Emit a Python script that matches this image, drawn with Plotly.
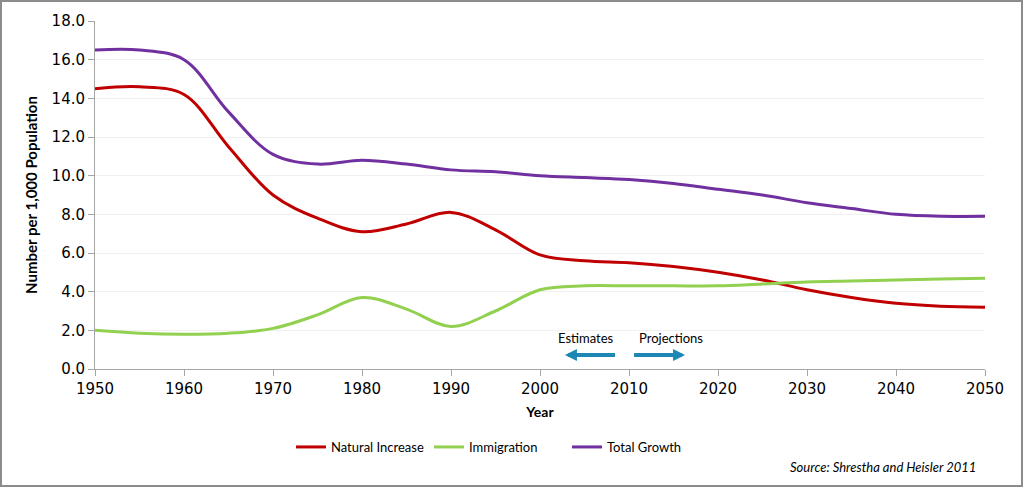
import plotly.graph_objects as go

years = [1950, 1955, 1960, 1965, 1970, 1975, 1980, 1985, 1990, 1995, 2000,
         2005, 2010, 2015, 2020, 2025, 2030, 2035, 2040, 2045, 2050]
natural_increase = [14.5, 14.6, 14.2, 11.5, 9.0, 7.8, 7.1, 7.5, 8.1, 7.2, 5.9,
                    5.6, 5.5, 5.3, 5.0, 4.6, 4.1, 3.7, 3.4, 3.25, 3.2]
immigration = [2.0, 1.85, 1.8, 1.85, 2.1, 2.8, 3.7, 3.1, 2.2, 3.0, 4.1,
               4.3, 4.3, 4.3, 4.3, 4.4, 4.5, 4.55, 4.6, 4.65, 4.7]
total_growth = [16.5, 16.5, 16.0, 13.3, 11.1, 10.6, 10.8, 10.6, 10.3, 10.2, 10.0,
                9.9, 9.8, 9.6, 9.3, 9.0, 8.6, 8.3, 8.0, 7.9, 7.9]

series = [
    ("Natural Increase", natural_increase, "#C00000"),
    ("Immigration", immigration, "#92D050"),
    ("Total Growth", total_growth, "#7030A0"),
]

FONT = "Lato, 'Open Sans', sans-serif"
TICKFONT = "'DejaVu Sans', sans-serif"

fig = go.Figure()
for name, vals, color in series:
    fig.add_trace(go.Scatter(
        x=years, y=vals, name=name, mode="lines",
        line=dict(color=color, width=3, shape="spline", smoothing=1.0),
    ))

W, H = 1024, 488
ml, mr, mt, mb = 95, 39, 21, 119
pw, ph = W - ml - mr, H - mt - mb

def px(x):
    return (x - ml) / pw

def py(y):
    return (H - mb - y) / ph

fig.update_layout(
    width=W, height=H,
    margin=dict(l=ml, r=mr, t=mt, b=mb),
    paper_bgcolor="white", plot_bgcolor="white",
    font=dict(family=FONT, color="#000000", size=14),
    showlegend=True,
    legend=dict(orientation="h", x=px(291), y=py(447), xanchor="left", yanchor="middle",
                font=dict(size=13), itemwidth=30, entrywidth=93,
                entrywidthmode="pixels", tracegroupgap=0),
    xaxis=dict(range=[1950, 2050], tickvals=list(range(1950, 2051, 10)),
               showgrid=False, showline=True, linecolor="#A6A6A6", linewidth=1,
               ticks="outside", tickcolor="#A6A6A6", ticklen=6,
               tickfont=dict(size=15, family=TICKFONT), zeroline=False,
               title=dict(text="<b>Year</b>", font=dict(size=14), standoff=10)),
    yaxis=dict(range=[0, 18], tickvals=[0, 2, 4, 6, 8, 10, 12, 14, 16, 18],
               tickformat=".1f", showgrid=True, gridcolor="#F0F0F0",
               showline=True, linecolor="#A6A6A6", linewidth=1,
               ticks="outside", tickcolor="#A6A6A6", ticklen=6,
               tickfont=dict(size=15, family=TICKFONT), zeroline=False,
               title=dict(text="<b>Number per 1,000 Population</b>", font=dict(size=15), standoff=10)),
    shapes=[dict(type="rect", xref="paper", yref="paper",
                 x0=px(1), x1=px(1022), y0=py(486), y1=py(1),
                 line=dict(color="#8C8C8C", width=2), fillcolor="rgba(0,0,0,0)")],
    annotations=[
        dict(x=2005.2, y=1.6, text="Estimates", showarrow=False,
             font=dict(size=13), xanchor="center", yanchor="middle"),
        dict(x=2014.7, y=1.6, text="Projections", showarrow=False,
             font=dict(size=13), xanchor="center", yanchor="middle"),
        dict(x=2002.8, y=0.72, ax=2008.6, ay=0.72, xref="x", yref="y", axref="x", ayref="y",
             text="", showarrow=True, arrowhead=2, arrowsize=0.6, arrowwidth=4,
             arrowcolor="#1E88B4"),
        dict(x=2016.3, y=0.72, ax=2010.4, ay=0.72, xref="x", yref="y", axref="x", ayref="y",
             text="", showarrow=True, arrowhead=2, arrowsize=0.6, arrowwidth=4,
             arrowcolor="#1E88B4"),
        dict(x=px(978), y=py(467), xref="paper", yref="paper", xanchor="right", yanchor="middle",
             text="<i>Source: Shrestha and Heisler 2011</i>", showarrow=False,
             font=dict(size=13)),
    ],
)

fig.write_html("out.html")
